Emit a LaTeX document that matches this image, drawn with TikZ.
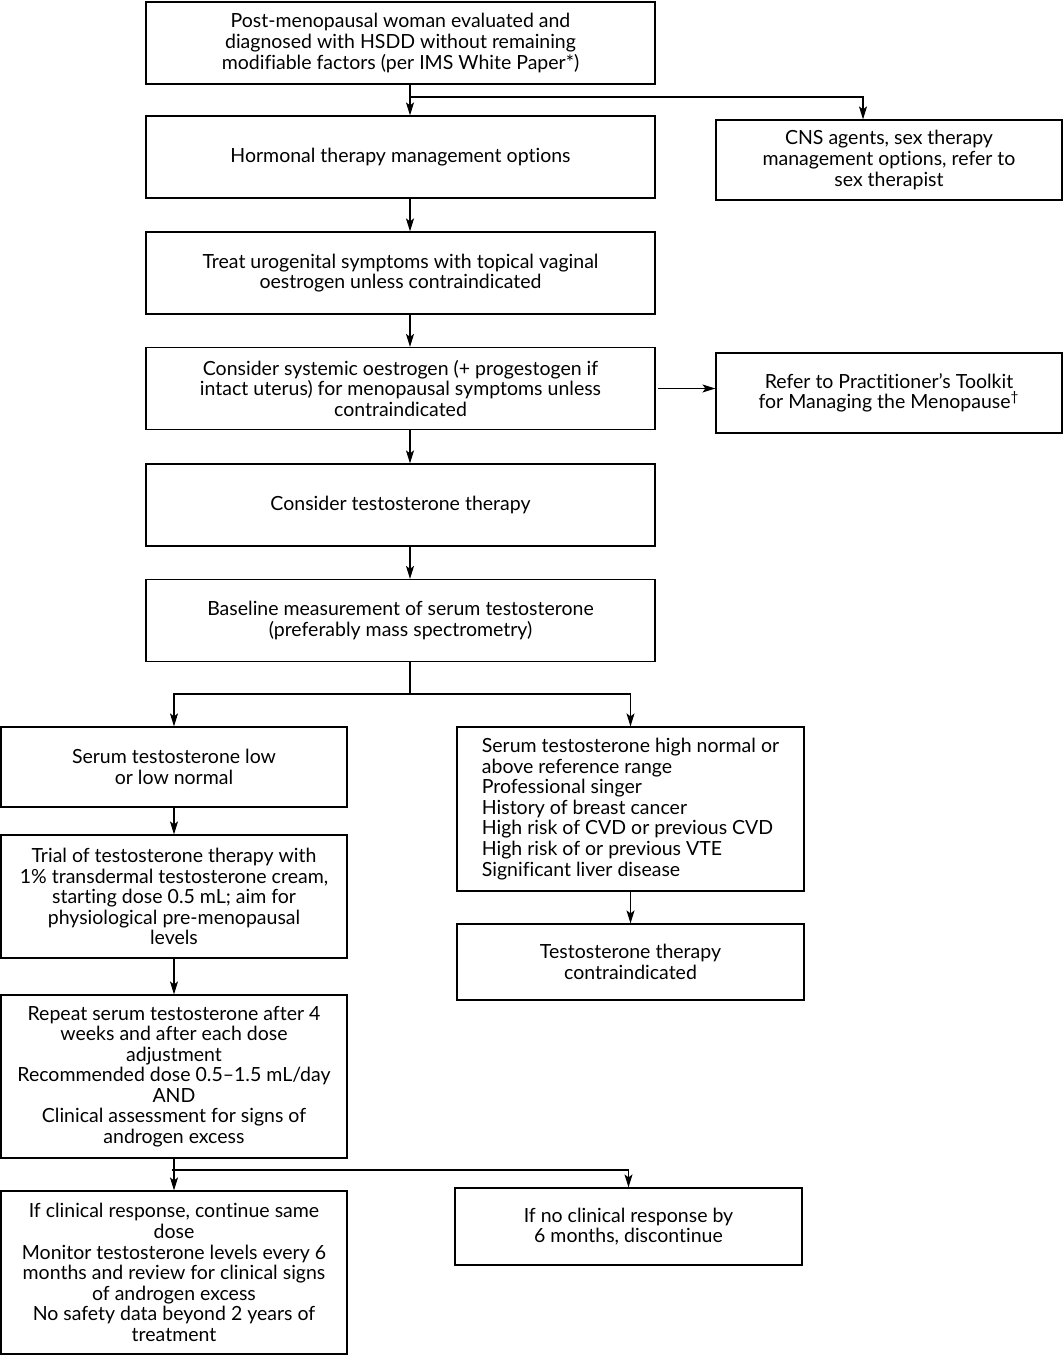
\documentclass[tikz,border=0pt]{standalone}
\usepackage{fontspec}
\setmainfont{Lato}[Ligatures={NoCommon}]
\usetikzlibrary{arrows.meta}
\tikzset{
  box/.style={draw,line width=0.7pt,align=center,inner sep=2pt,
    font=\fontsize{11.1}{11.7}\selectfont},
  wide box/.style={box,minimum width=10.18cm,minimum height=1.64cm},
  side box/.style={box,minimum width=6.92cm,minimum height=1.6cm},
  flow/.style={line width=0.7pt,-{Stealth[length=0.26cm,width=0.16cm,inset=0.06cm]}}
}
\begin{document}
\begin{tikzpicture}[x=0.02cm,y=-0.02cm]
\useasboundingbox (0,0) rectangle (1064,1355);
% Nodo iniziale
\draw(400.5,43)node[wide box](node start){Post-menopausal woman evaluated and\\diagnosed with HSDD without remaining\\modifiable factors (per IMS White Paper*)}
     % Nodo terapia ormonale
     (400.5,157)node[wide box](node horm){Hormonal therapy management options}
     % Nodo CNS
     (889,160)node[side box](node cns){CNS agents, sex therapy\\management options, refer to\\sex therapist}
     % Nodo urogenitale
     (400.5,273)node[wide box](node uro){Treat urogenital symptoms with topical vaginal\\oestrogen unless contraindicated}
     % Nodo estrogeno sistemico
     (400.5,388.5)node[wide box](node syst){Consider systemic oestrogen (+ progestogen if\\intact uterus) for menopausal symptoms unless\\contraindicated}
     % Nodo toolkit
     (889,393)node[side box](node kit){Refer to Practitioner’s Toolkit\\for Managing the Menopause\textsuperscript{\textdagger}}
     % Nodo testosterone
     (400.5,505)node[wide box](node testo){Consider testosterone therapy}
     % Nodo misura basale
     (400.5,620.5)node[wide box](node base){Baseline measurement of serum testosterone\\(preferably mass spectrometry)};

\draw(174,767)node[side box](node low){Serum testosterone low\\or low normal}
     % Nodo controindicazioni
     (630.5,809)node[side box,minimum width=6.94cm,minimum height=3.28cm,align=left](node high){Serum testosterone high normal or\\above reference range\\Professional singer\\History of breast cancer\\High risk of CVD or previous CVD\\High risk of or previous VTE\\Significant liver disease}
     % Nodo prova
     (174,896.5)node[side box,minimum height=2.46cm](node trial){Trial of testosterone therapy with\\1\% transdermal testosterone cream,\\starting dose 0.5 mL; aim for\\physiological pre-menopausal\\levels}
     % Nodo controindicata
     (630.5,962)node[side box,minimum width=6.94cm,minimum height=1.52cm](node contra){Testosterone therapy\\contraindicated}
     % Nodo ripetere
     (174,1076.5)node[side box,minimum height=3.26cm](node repeat){Repeat serum testosterone after 4\\weeks and after each dose\\adjustment\\Recommended dose 0.5–1.5 mL/day\\AND\\Clinical assessment for signs of\\androgen excess}
     % Nodo risposta
     (174,1272.5)node[side box,minimum height=3.26cm](node yes){If clinical response, continue same\\dose\\Monitor testosterone levels every 6\\months and review for clinical signs\\of androgen excess\\No safety data beyond 2 years of\\treatment}
     % Nodo nessuna risposta
     (628.5,1226.5)node[side box,minimum width=6.94cm,minimum height=1.54cm](node no){If no clinical response by\\6 months, discontinue};

\coordinate(spine)at(410,0);
\coordinate(fork top)at(410,97);
\coordinate(fork base)at(410,694);
\coordinate(fork end)at(172,1170);

\draw[flow](node start.south -| spine)--(node horm.north -| spine);
% Freccia verso CNS
\draw[flow](fork top)-|([xshift=-0.52cm]node cns.north);
\draw[flow](node horm.south -| spine)--(node uro.north -| spine);
\draw[flow](node uro.south -| spine)--(node syst.north -| spine);
% Freccia verso toolkit
\draw[flow]([xshift=0.04cm]node syst.east)--(node syst.east -| node kit.west);
\draw[flow](node syst.south -| spine)--(node testo.north -| spine);
\draw[flow](node testo.south -| spine)--(node base.north -| spine);
% Biforcazione dopo misura basale
\draw[line width=0.7pt](node base.south -| spine)--(fork base);
\draw[flow](fork base)-|(node low.north);
\draw[flow](fork base)-|(node high.north);
\draw[flow](node low.south)--(node trial.north);
\draw[flow](node high.south)--(node contra.north);
\draw[flow](node trial.south)--(node repeat.north);
% Biforcazione finale
\draw[flow](node repeat.south)--(node yes.north);
\draw[flow](fork end)-|(node no.north);
\end{tikzpicture}
\end{document}
